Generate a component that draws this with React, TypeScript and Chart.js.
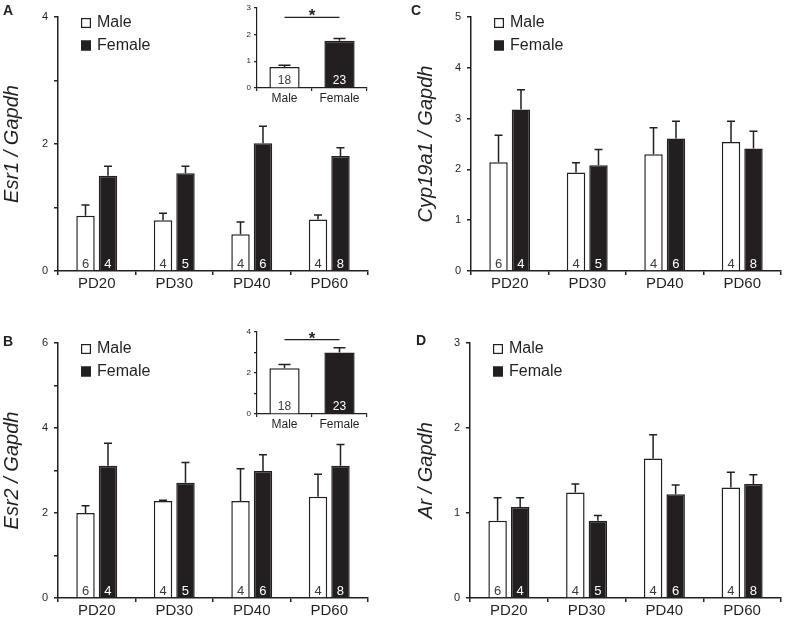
import React, { useEffect, useRef } from 'react';
import { Chart, registerables } from 'chart.js';

Chart.register(...registerables);

// ---------------- data ----------------
const categories = ['PD20', 'PD30', 'PD40', 'PD60'];
const maleN = [6, 4, 4, 4];
const femaleN = [4, 5, 6, 8];

const esr1Male = [0.87, 0.80, 0.58, 0.81];
const esr1MaleSem = [0.17, 0.11, 0.19, 0.07];
const esr1Female = [1.50, 1.54, 2.01, 1.81];
const esr1FemaleSem = [0.15, 0.11, 0.27, 0.13];

const esr2Male = [2.00, 2.28, 2.28, 2.38];
const esr2MaleSem = [0.17, 0.02, 0.76, 0.53];
const esr2Female = [3.11, 2.71, 2.99, 3.11];
const esr2FemaleSem = [0.53, 0.48, 0.38, 0.50];

const cypMale = [2.14, 1.94, 2.30, 2.54];
const cypMaleSem = [0.53, 0.19, 0.52, 0.41];
const cypFemale = [3.18, 2.08, 2.61, 2.41];
const cypFemaleSem = [0.39, 0.31, 0.34, 0.34];

const arMale = [0.91, 1.24, 1.64, 1.30];
const arMaleSem = [0.27, 0.10, 0.28, 0.18];
const arFemale = [1.07, 0.91, 1.22, 1.34];
const arFemaleSem = [0.11, 0.06, 0.11, 0.11];

const insetCategories = ['Male', 'Female'];
const insetN = [18, 23];
const esr1Pooled = [0.79, 1.77];
const esr1PooledSem = [0.06, 0.08];
const esr2Pooled = [2.23, 3.00];
const esr2PooledSem = [0.19, 0.23];

// ---------------- styles ----------------
const W = 785;
const H = 621;
const FONT = '"Liberation Sans", Arial, Helvetica, sans-serif';
const INK = '#231f20';
const COUNT_DARK = '#3a3a3a';

// ---------------- plugins ----------------
const errorBarsPlugin = {
  id: 'errorBars',
  afterDatasetsDraw(chart: any, _args: any, opts: any) {
    const ctx = chart.ctx;
    const y = chart.scales.y;
    chart.data.datasets.forEach((ds: any, di: number) => {
      const meta = chart.getDatasetMeta(di);
      meta.data.forEach((bar: any, i: number) => {
        const top = y.getPixelForValue(ds.data[i] + ds.sem[i]);
        ctx.save();
        ctx.strokeStyle = INK;
        ctx.lineWidth = 1.5;
        ctx.beginPath();
        ctx.moveTo(bar.x, bar.y);
        ctx.lineTo(bar.x, top);
        ctx.moveTo(bar.x - opts.cap / 2, top);
        ctx.lineTo(bar.x + opts.cap / 2, top);
        ctx.stroke();
        // sample sizes
        const c = Array.isArray(ds.countColor) ? ds.countColor[i] : ds.countColor;
        ctx.fillStyle = c;
        ctx.font = `${opts.countSize}px ${FONT}`;
        ctx.textAlign = 'center';
        ctx.textBaseline = 'middle';
        ctx.fillText(String(ds.counts[i]), bar.x, bar.base - opts.countOffset);
        ctx.restore();
      });
    });
  },
};

const boxLegendPlugin = {
  id: 'boxLegend',
  afterDraw(chart: any, _args: any, opts: any) {
    if (!opts || !opts.display) return;
    const ctx = chart.ctx;
    const { left, top } = chart.chartArea;
    chart.data.datasets.forEach((ds: any, i: number) => {
      const cy = top + opts.dy + i * opts.row;
      const sx = left + opts.dx;
      ctx.save();
      ctx.fillStyle = ds.backgroundColor;
      ctx.fillRect(sx, cy - opts.box / 2, opts.box, opts.box);
      ctx.strokeStyle = INK;
      ctx.lineWidth = 1.2;
      ctx.strokeRect(sx + 0.6, cy - opts.box / 2 + 0.6, opts.box - 1.2, opts.box - 1.2);
      ctx.fillStyle = INK;
      ctx.font = `${opts.size}px ${FONT}`;
      ctx.textAlign = 'left';
      ctx.textBaseline = 'middle';
      ctx.fillText(ds.label, left + opts.textDx, cy);
      ctx.restore();
    });
  },
};

const panelLetterPlugin = {
  id: 'panelLetter',
  afterDraw(chart: any, _args: any, opts: any) {
    if (!opts || !opts.text) return;
    const ctx = chart.ctx;
    ctx.save();
    ctx.fillStyle = INK;
    ctx.font = `bold 14px ${FONT}`;
    ctx.textAlign = 'left';
    ctx.textBaseline = 'middle';
    ctx.fillText(opts.text, opts.x, opts.y);
    ctx.restore();
  },
};

const significancePlugin = {
  id: 'significance',
  afterDraw(chart: any, _args: any, opts: any) {
    if (!opts || !opts.display) return;
    const ctx = chart.ctx;
    const x = chart.scales.x;
    const y = chart.scales.y;
    const x0 = x.getPixelForValue(0);
    const x1 = x.getPixelForValue(1);
    const yy = y.getPixelForValue(opts.value);
    ctx.save();
    ctx.strokeStyle = INK;
    ctx.lineWidth = 1.3;
    ctx.beginPath();
    ctx.moveTo(x0, yy);
    ctx.lineTo(x1, yy);
    ctx.stroke();
    ctx.fillStyle = INK;
    ctx.font = `bold 17px ${FONT}`;
    ctx.textAlign = 'center';
    ctx.textBaseline = 'alphabetic';
    ctx.fillText('*', (x0 + x1) / 2, yy + 4);
    ctx.restore();
  },
};

// ---------------- config builders ----------------
function mainConfig(spec: any) {
  const { area, yWidth } = spec;
  const xH = 20;
  return {
    type: 'bar',
    data: {
      labels: categories,
      datasets: [
        {
          label: 'Male', data: spec.male, sem: spec.maleSem, counts: maleN, countColor: COUNT_DARK,
          backgroundColor: '#ffffff', borderColor: INK, borderWidth: 1.5,
        },
        {
          label: 'Female', data: spec.female, sem: spec.femaleSem, counts: femaleN, countColor: '#ffffff',
          backgroundColor: INK, borderColor: INK, borderWidth: 1.5,
        },
      ],
    },
    options: {
      responsive: false,
      animation: false,
      devicePixelRatio: 1,
      events: [],
      layout: { padding: { left: area.l - yWidth, top: area.t, right: W - area.r, bottom: H - area.b - xH } },
      datasets: { bar: { categoryPercentage: 0.58, barPercentage: 0.82 } },
      scales: {
        x: {
          offset: true,
          grid: { display: true, drawOnChartArea: false, drawTicks: true, tickLength: 4, color: INK, lineWidth: 1.5, offset: true },
          border: { display: true, color: INK, width: 1.5 },
          ticks: { font: { family: FONT, size: 15 }, color: INK, padding: 0, maxRotation: 0 },
          afterFit: (s: any) => { s.height = xH; },
        },
        y: {
          min: 0,
          max: spec.max,
          ticks: {
            stepSize: 1,
            font: { family: FONT, size: 11 },
            color: INK,
            padding: 6,
            callback: (v: number) => (v % spec.labelStep === 0 ? String(v) : ''),
          },
          grid: { display: true, drawOnChartArea: false, drawTicks: true, tickLength: 4, color: INK, lineWidth: 1.5 },
          border: { display: true, color: INK, width: 1.5 },
          title: {
            display: true, text: spec.yTitle, color: INK, padding: 0,
            font: { family: FONT, size: 20, style: 'italic' },
          },
          afterFit: (s: any) => { s.width = yWidth; },
        },
      },
      plugins: {
        legend: { display: false },
        tooltip: { enabled: false },
        errorBars: { cap: 8, countSize: 13, countOffset: 6 },
        boxLegend: { display: true, dx: 23, textDx: 39, dy: 6, row: 22.5, box: 10, size: 16 },
        panelLetter: spec.letter,
      },
    },
    plugins: [errorBarsPlugin, boxLegendPlugin, panelLetterPlugin],
  };
}

function insetConfig(spec: any) {
  const { area } = spec;
  const yWidth = 16;
  const xH = 14;
  return {
    type: 'bar',
    data: {
      labels: insetCategories,
      datasets: [
        {
          label: 'pooled', data: spec.values, sem: spec.sem, counts: insetN,
          countColor: [COUNT_DARK, '#ffffff'],
          backgroundColor: ['#ffffff', INK], borderColor: INK, borderWidth: 1.5,
        },
      ],
    },
    options: {
      responsive: false,
      animation: false,
      devicePixelRatio: 1,
      events: [],
      layout: { padding: { left: area.l - yWidth, top: area.t, right: W - area.r, bottom: H - area.b - xH } },
      datasets: { bar: { categoryPercentage: 0.55, barPercentage: 1 } },
      scales: {
        x: {
          offset: true,
          grid: { display: true, drawOnChartArea: false, drawTicks: true, tickLength: 3, color: INK, lineWidth: 1.2, offset: true },
          border: { display: true, color: INK, width: 1.2 },
          ticks: { font: { family: FONT, size: 12 }, color: INK, padding: 0, maxRotation: 0 },
          afterFit: (s: any) => { s.height = xH; },
        },
        y: {
          min: 0,
          max: spec.max,
          ticks: {
            stepSize: 1,
            font: { family: FONT, size: 8 },
            color: INK,
            padding: 3,
            callback: (v: number) => (v % spec.labelStep === 0 ? String(v) : ''),
          },
          grid: { display: true, drawOnChartArea: false, drawTicks: true, tickLength: 3, color: INK, lineWidth: 1.2 },
          border: { display: true, color: INK, width: 1.2 },
          afterFit: (s: any) => { s.width = yWidth; },
        },
      },
      plugins: {
        legend: { display: false },
        tooltip: { enabled: false },
        errorBars: { cap: 12, countSize: 12, countOffset: 7 },
        significance: { display: true, value: spec.sigValue },
      },
    },
    plugins: [errorBarsPlugin, significancePlugin],
  };
}

const configs = [
  mainConfig({
    yTitle: 'Esr1 / Gapdh', max: 4, labelStep: 2,
    male: esr1Male, maleSem: esr1MaleSem, female: esr1Female, femaleSem: esr1FemaleSem,
    area: { l: 58, r: 368, t: 17, b: 271 }, yWidth: 58,
    letter: { text: 'A', x: 3, y: 11 },
  }),
  mainConfig({
    yTitle: 'Esr2 / Gapdh', max: 6, labelStep: 2,
    male: esr2Male, maleSem: esr2MaleSem, female: esr2Female, femaleSem: esr2FemaleSem,
    area: { l: 58, r: 368, t: 343, b: 598 }, yWidth: 58,
    letter: { text: 'B', x: 3, y: 342 },
  }),
  mainConfig({
    yTitle: 'Cyp19a1 / Gapdh', max: 5, labelStep: 1,
    male: cypMale, maleSem: cypMaleSem, female: cypFemale, femaleSem: cypFemaleSem,
    area: { l: 471, r: 781, t: 17, b: 271 }, yWidth: 57,
    letter: { text: 'C', x: 411, y: 11 },
  }),
  mainConfig({
    yTitle: 'Ar / Gapdh', max: 3, labelStep: 1,
    male: arMale, maleSem: arMaleSem, female: arFemale, femaleSem: arFemaleSem,
    area: { l: 470, r: 781, t: 343, b: 598 }, yWidth: 56,
    letter: { text: 'D', x: 416, y: 341 },
  }),
  insetConfig({
    values: esr1Pooled, sem: esr1PooledSem, max: 3, labelStep: 1, sigValue: 2.64,
    area: { l: 257, r: 367, t: 5, b: 88 },
  }),
  insetConfig({
    values: esr2Pooled, sem: esr2PooledSem, max: 4, labelStep: 2, sigValue: 3.63,
    area: { l: 257, r: 367, t: 332, b: 414 },
  }),
];

function ChartLayer({ config }: { config: any }) {
  const ref = useRef<HTMLCanvasElement | null>(null);
  useEffect(() => {
    if (!ref.current) return;
    const chart = new Chart(ref.current, config);
    return () => chart.destroy();
  }, [config]);
  return (
    <canvas
      ref={ref}
      width={W}
      height={H}
      style={{ position: 'absolute', left: 0, top: 0, width: W, height: H }}
    />
  );
}

export default function App() {
  return (
    <div style={{ position: 'fixed', left: 0, top: 0, width: W, height: H, background: '#ffffff', overflow: 'hidden' }}>
      {configs.map((c, i) => (
        <ChartLayer key={i} config={c} />
      ))}
    </div>
  );
}
